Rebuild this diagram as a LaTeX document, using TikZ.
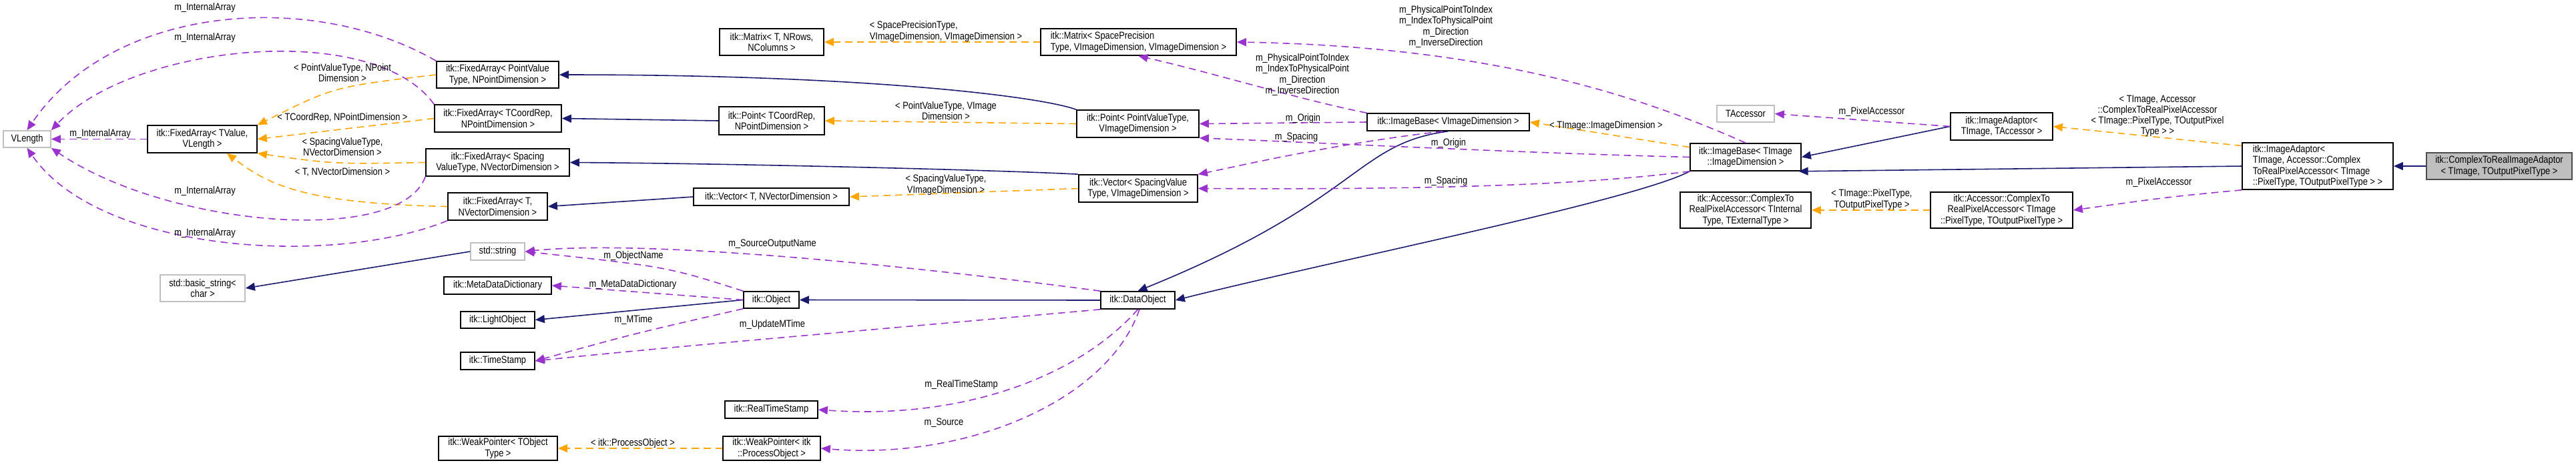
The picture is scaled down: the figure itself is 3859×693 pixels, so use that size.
\documentclass[tikz,border=0pt]{standalone}
\usepackage{fontspec}
\newfontfamily\dxfont[FakeStretch=0.85]{Liberation Sans}
\newcommand{\dxf}{\dxfont\fontsize{4.3}{4.6}\selectfont}
\usetikzlibrary{arrows.meta}
\definecolor{navyc}{HTML}{191970}
\definecolor{orangec}{HTML}{FFA500}
\definecolor{purplec}{HTML}{9A32CD}
\tikzset{
  box/.style={draw=black, line width=0.45pt, fill=white, inner sep=0pt, align=center, font=\dxf},
  gbox/.style={box, draw=black!25},
  lab/.style={font=\dxf, align=center, inner sep=0pt},
  inh/.style={draw=navyc, line width=0.45pt, -{Triangle[length=4pt,width=3.4pt]}},
  tmpl/.style={draw=orangec, line width=0.45pt, dash pattern=on 3pt off 2pt, -{Triangle[length=4pt,width=3.4pt]}},
  mem/.style={draw=purplec, line width=0.45pt, dash pattern=on 3pt off 2pt, -{Triangle[length=4pt,width=3.4pt]}},
}
\begin{document}
\begin{tikzpicture}[x=0.01cm,y=-0.01cm]
\useasboundingbox (0,0) rectangle (3859,693);
% nodes
\node[gbox, minimum width=0.71cm, minimum height=0.25cm] (VL) at (40.5,208.5) {VLength};
\node[box, minimum width=1.64cm, minimum height=0.41cm] (FATV) at (303,208.5) {itk::FixedArray\textless{} TValue,\\VLength \textgreater};
\node[gbox, minimum width=1.27cm, minimum height=0.40cm] (BSTR) at (303.5,432) {std::basic\_string\textless\\char \textgreater};
\node[box, minimum width=1.83cm, minimum height=0.40cm] (FAPVT) at (745.5,112) {itk::FixedArray\textless{} PointValue\\Type, NPointDimension \textgreater};
\node[box, minimum width=1.90cm, minimum height=0.41cm] (FATC) at (746,177.5) {itk::FixedArray\textless{} TCoordRep,\\NPointDimension \textgreater};
\node[box, minimum width=2.15cm, minimum height=0.41cm] (FASP) at (745.5,243.5) {itk::FixedArray\textless{} Spacing\\ValueType, NVectorDimension \textgreater};
\node[box, minimum width=1.49cm, minimum height=0.41cm] (FAT) at (745.5,309.5) {itk::FixedArray\textless{} T,\\NVectorDimension \textgreater};
\node[box, minimum width=1.56cm, minimum height=0.40cm] (MATT) at (1156,63) {itk::Matrix\textless{} T, NRows,\\NColumns \textgreater};
\node[box, minimum width=1.58cm, minimum height=0.42cm] (PTTC) at (1156,181) {itk::Point\textless{} TCoordRep,\\NPointDimension \textgreater};
\node[box, minimum width=2.33cm, minimum height=0.26cm] (VECT) at (1155.5,295) {itk::Vector\textless{} T, NVectorDimension \textgreater};
\node[gbox, minimum width=0.81cm, minimum height=0.26cm] (STR) at (745.5,377) {std::string};
\node[box, minimum width=1.61cm, minimum height=0.26cm] (MDD) at (745.5,428) {itk::MetaDataDictionary};
\node[box, minimum width=0.83cm, minimum height=0.25cm] (OBJ) at (1155.5,449.5) {itk::Object};
\node[box, minimum width=1.11cm, minimum height=0.25cm] (LOBJ) at (745.5,479.5) {itk::LightObject};
\node[box, minimum width=1.11cm, minimum height=0.26cm] (TS) at (745.5,541) {itk::TimeStamp};
\node[box, minimum width=1.39cm, minimum height=0.26cm] (RTS) at (1155.5,614) {itk::RealTimeStamp};
\node[box, minimum width=1.78cm, minimum height=0.36cm] (WPT) at (746,672) {itk::WeakPointer\textless{} TObject\\Type \textgreater};
\node[box, minimum width=1.46cm, minimum height=0.36cm] (WPP) at (1156,672) {itk::WeakPointer\textless{} itk\\::ProcessObject \textgreater};
\node[box, minimum width=2.93cm, minimum height=0.40cm, align=left] (MATSP) at (1705.5,63) {itk::Matrix\textless{} SpacePrecision\\Type, VImageDimension, VImageDimension \textgreater};
\node[box, minimum width=1.83cm, minimum height=0.41cm] (PTPV) at (1704.5,185.5) {itk::Point\textless{} PointValueType,\\VImageDimension \textgreater};
\node[box, minimum width=1.78cm, minimum height=0.41cm] (VECSV) at (1705,282.5) {itk::Vector\textless{} SpacingValue\\Type, VImageDimension \textgreater};
\node[box, minimum width=1.11cm, minimum height=0.26cm] (DOBJ) at (1704.5,450) {itk::DataObject};
\node[box, minimum width=2.43cm, minimum height=0.26cm] (IBV) at (2169.5,183) {itk::ImageBase\textless{} VImageDimension \textgreater};
\node[box, minimum width=1.66cm, minimum height=0.41cm] (IBT) at (2615,235.5) {itk::ImageBase\textless{} TImage\\::ImageDimension \textgreater};
\node[gbox, minimum width=0.86cm, minimum height=0.25cm] (TACC) at (2615,170.5) {TAccessor};
\node[box, minimum width=1.53cm, minimum height=0.41cm] (IA1) at (2998.5,189.5) {itk::ImageAdaptor\textless\\TImage, TAccessor \textgreater};
\node[box, minimum width=1.96cm, minimum height=0.54cm] (ACC1) at (2615,315) {itk::Accessor::ComplexTo\\RealPixelAccessor\textless{} TInternal\\Type, TExternalType \textgreater};
\node[box, minimum width=2.13cm, minimum height=0.54cm] (ACC2) at (2998.5,315) {itk::Accessor::ComplexTo\\RealPixelAccessor\textless{} TImage\\::PixelType, TOutputPixelType \textgreater};
\node[box, minimum width=2.26cm, minimum height=0.70cm, align=left] (IA2) at (3472,249) {itk::ImageAdaptor\textless\\ TImage, Accessor::Complex\\ToRealPixelAccessor\textless{} TImage\\::PixelType, TOutputPixelType \textgreater{} \textgreater};
\node[box, draw=black!70, fill=black!25, minimum width=2.18cm, minimum height=0.40cm] (C2R) at (3744,249) {itk::ComplexToRealImageAdaptor\\\textless{} TImage, TOutputPixelType \textgreater};

% inheritance
\draw[inh] (PTPV.north west) .. controls (1560,145) and (1300,112) .. (FAPVT.east);
\draw[inh] (PTTC.west) -- (FATC.east);
\draw[inh] (VECSV.north west) .. controls (1500,255) and (1100,245) .. (FASP.east);
\draw[inh] (VECT.west) -- (FAT.east);
\draw[inh] (STR.west) -- (BSTR.east);
\draw[inh] (OBJ.west) -- (LOBJ.east);
\draw[inh] (DOBJ.west) -- (OBJ.east);
\draw[inh] (IBV.south) .. controls (2030,215) and (2040,300) .. (DOBJ.north);
\draw[inh] (IBT.south west) .. controls (2450,300) and (2000,390) .. (DOBJ.east);
\draw[inh] (IA1.west) -- (IBT.east);
\draw[inh] (IA2.west) -- (IBT.-15);
\draw[inh] (C2R.west) -- (IA2.east);

% templates
\draw[tmpl] (FAPVT.west) .. controls (500,130) .. (FATV.north east);
\draw[tmpl] (FATC.west) -- (FATV.east);
\draw[tmpl] (FASP.west) .. controls (500,246) .. (FATV.south east);
\draw[tmpl] (FAT.west) .. controls (450,305) and (400,275) .. (FATV.-30);
\draw[tmpl] (MATSP.west) -- (MATT.east);
\draw[tmpl] (PTPV.west) -- (PTTC.east);
\draw[tmpl] (VECSV.west) -- (VECT.east);
\draw[tmpl] (WPP.west) -- (WPT.east);
\draw[tmpl] (IBT.170) -- (IBV.east);
\draw[tmpl] (ACC2.west) -- (ACC1.east);
\draw[tmpl] (IA2.165) -- (IA1.east);

% members
\draw[mem] (FAPVT.north west) .. controls (470,-15) and (170,5) .. (VL.north);
\draw[mem] (FATC.north west) .. controls (560,30) and (200,65) .. (VL.north east);
\draw[mem] (FATV.west) -- (VL.east);
\draw[mem] (FASP.south west) .. controls (600,370) and (250,340) .. (VL.south east);
\draw[mem] (FAT.south west) .. controls (500,400) and (150,380) .. (VL.south);
\draw[mem] (OBJ.north west) .. controls (1000,400) .. (STR.east);
\draw[mem] (DOBJ.north west) .. controls (1300,390) and (950,360) .. (STR.east);
\draw[mem] (OBJ.west) -- (MDD.east);
\draw[mem] (OBJ.south west) .. controls (950,500) .. (TS.east);
\draw[mem] (DOBJ.south west) .. controls (1300,495) and (1000,520) .. (TS.east);
\draw[mem] (DOBJ.south) .. controls (1620,560) and (1450,630) .. (RTS.east);
\draw[mem] (DOBJ.-80) .. controls (1660,600) and (1450,690) .. (WPP.east);
\draw[mem] (IBV.north west) .. controls (1950,150) and (1820,110) .. (MATSP.south);
\draw[mem] (IBT.north) .. controls (2470,150) and (2250,70) .. (MATSP.east);
\draw[mem] (IBV.west) -- (PTPV.east);
\draw[mem] (IBT.west) .. controls (2300,230) and (2000,215) .. (PTPV.south east);
\draw[mem] (IBV.-120) .. controls (2000,215) and (1850,250) .. (VECSV.north east);
\draw[mem] (IBT.south west) .. controls (2350,280) and (2100,284) .. (VECSV.east);
\draw[mem] (IA1.west) -- (TACC.east);
\draw[mem] (IA2.south west) .. controls (3250,295) .. (ACC2.east);

% labels
\node[lab] (l1) at (307,12) {m\_InternalArray};
\node[lab] (l2) at (307,57) {m\_InternalArray};
\node[lab] (l3) at (150,201) {m\_InternalArray};
\node[lab] (l4) at (307,287) {m\_InternalArray};
\node[lab] (l5) at (307,350) {m\_InternalArray};
\node[lab] (l6) at (513,109) {\textless{} PointValueType, NPoint\\Dimension \textgreater};
\node[lab] (l7) at (513,177) {\textless{} TCoordRep, NPointDimension \textgreater};
\node[lab] (l8) at (513,220) {\textless{} SpacingValueType,\\NVectorDimension \textgreater};
\node[lab] (l9) at (513,258) {\textless{} T, NVectorDimension \textgreater};
\node[lab, align=left] (l10) at (1417,47) {\textless{} SpacePrecisionType,\\VImageDimension, VImageDimension \textgreater};
\node[lab] (l11) at (1417,166) {\textless{} PointValueType, VImage\\Dimension \textgreater};
\node[lab] (l12) at (1417,277) {\textless{} SpacingValueType,\\VImageDimension \textgreater};
\node[lab] (l13) at (948,665) {\textless{} itk::ProcessObject \textgreater};
\node[lab] (l14) at (949,384) {m\_ObjectName};
\node[lab] (l15) at (1157,366) {m\_SourceOutputName};
\node[lab] (l16) at (948,427) {m\_MetaDataDictionary};
\node[lab] (l17) at (949,480) {m\_MTime};
\node[lab] (l18) at (1157,487) {m\_UpdateMTime};
\node[lab] (l19) at (1440,577) {m\_RealTimeStamp};
\node[lab] (l20) at (1414,634) {m\_Source};
\node[lab] (l21) at (1951,112) {m\_PhysicalPointToIndex\\m\_IndexToPhysicalPoint\\m\_Direction\\m\_InverseDirection};
\node[lab] (l22) at (2166,40) {m\_PhysicalPointToIndex\\m\_IndexToPhysicalPoint\\m\_Direction\\m\_InverseDirection};
\node[lab] (l23) at (1952,178) {m\_Origin};
\node[lab] (l24) at (1942,206) {m\_Spacing};
\node[lab] (l25) at (2170,215) {m\_Origin};
\node[lab] (l26) at (2166,272) {m\_Spacing};
\node[lab] (l27) at (2406,189) {\textless{} TImage::ImageDimension \textgreater};
\node[lab] (l28) at (2804,168) {m\_PixelAccessor};
\node[lab] (l29) at (2804,299) {\textless{} TImage::PixelType,\\TOutputPixelType \textgreater};
\node[lab] (l30) at (3232,174) {\textless{} TImage, Accessor\\::ComplexToRealPixelAccessor\\\textless{} TImage::PixelType, TOutputPixel\\Type \textgreater{} \textgreater};
\node[lab] (l31) at (3234,274) {m\_PixelAccessor};
\end{tikzpicture}
\end{document}
